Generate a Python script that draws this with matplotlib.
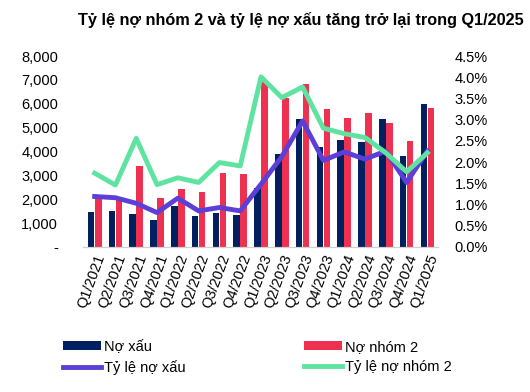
import numpy as np
import matplotlib.pyplot as plt
from matplotlib.ticker import FuncFormatter

plt.rcParams['font.family'] = ['Liberation Sans', 'DejaVu Sans']

# Dữ liệu
quy = ['Q1/2021', 'Q2/2021', 'Q3/2021', 'Q4/2021', 'Q1/2022', 'Q2/2022', 'Q3/2022', 'Q4/2022',
       'Q1/2023', 'Q2/2023', 'Q3/2023', 'Q4/2023', 'Q1/2024', 'Q2/2024', 'Q3/2024', 'Q4/2024',
       'Q1/2025']
no_xau = [1480, 1520, 1380, 1140, 1700, 1280, 1420, 1360,
          2480, 3900, 5360, 4200, 4490, 4410, 5370, 3820, 5990]
no_nhom2 = [2080, 1950, 3400, 2060, 2440, 2300, 3090, 3070,
            6950, 6230, 6820, 5770, 5420, 5600, 5210, 4440, 5820]
ty_le_no_xau = [1.19, 1.16, 1.03, 0.81, 1.15, 0.85, 0.93, 0.85,
                1.48, 2.13, 2.97, 2.04, 2.24, 2.07, 2.26, 1.52, 2.26]
ty_le_nhom2 = [1.74, 1.46, 2.56, 1.47, 1.63, 1.52, 1.99, 1.91,
               4.01, 3.52, 3.77, 2.80, 2.67, 2.58, 2.22, 1.77, 2.22]

navy = '#002060'
red = '#EE3150'
purple = '#5B3FD6'
green = '#5EE3A1'

x = np.arange(len(quy))
w = 0.32

fig = plt.figure(figsize=(5.30, 3.92), dpi=100)
ax = fig.add_axes([0.157, 0.37, 0.669, 0.487])
ax2 = ax.twinx()

b1 = ax.bar(x - 0.17, no_xau, w, color=navy, label='Nợ xấu')
b2 = ax.bar(x + 0.17, no_nhom2, w, color=red, label='Nợ nhóm 2')
l1, = ax2.plot(x, ty_le_no_xau, color=purple, lw=3.5, label='Tỷ lệ nợ xấu')
l2, = ax2.plot(x, ty_le_nhom2, color=green, lw=3.5, label='Tỷ lệ nợ nhóm 2')

ax.set_xlim(-0.55, 16.5)
ax.set_ylim(0, 8000)
ax.set_yticks(range(0, 8001, 1000))
ax.yaxis.set_major_formatter(FuncFormatter(lambda v, p: '-' if v == 0 else f'{v:,.0f}'))
ax2.set_ylim(0, 4.5)
ax2.set_yticks(np.arange(0, 4.51, 0.5))
ax2.yaxis.set_major_formatter(FuncFormatter(lambda v, p: f'{v:.1f}%'))

ax.set_xticks(x)
ax.set_xticklabels(quy, rotation=70, ha='right', rotation_mode='anchor')

for a in (ax, ax2):
    for s in ('top', 'left', 'right'):
        a.spines[s].set_visible(False)
    a.spines['bottom'].set_color('#d0d0d0')
    a.tick_params(length=0, labelsize=10.5)
ax.tick_params(axis='y', pad=18)
ax2.tick_params(axis='y', pad=12)
ax.tick_params(axis='x', pad=4)

fig.suptitle('Tỷ lệ nợ nhóm 2 và tỷ lệ nợ xấu tăng trở lại trong Q1/2025',
             x=0.568, y=0.97, fontsize=11.7, fontweight='bold')

fig.legend(handles=[b1, l1, b2, l2], loc='lower left', bbox_to_anchor=(0.095, 0.01),
           ncol=2, frameon=False, fontsize=10.5, handlelength=2.6, handleheight=0.6,
           columnspacing=8.1, handletextpad=0.2, labelspacing=0.45)

fig.savefig('out.png', dpi=100)
